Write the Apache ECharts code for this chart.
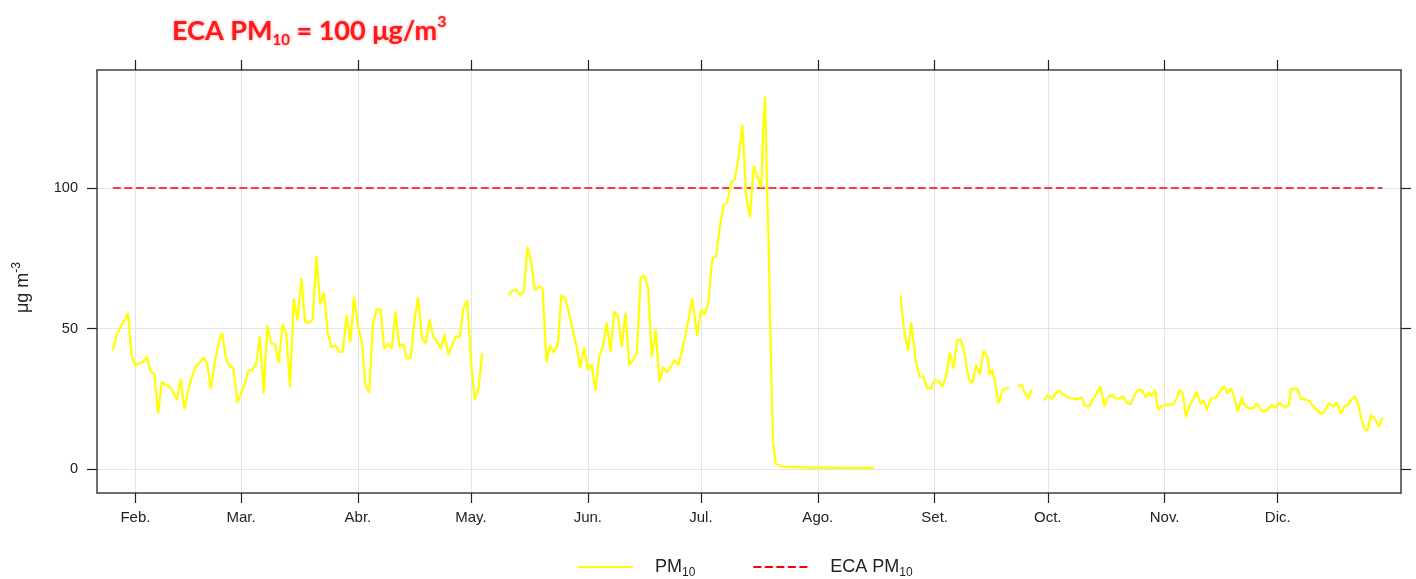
<!DOCTYPE html>
<html><head><meta charset="utf-8">
<script src="https://cdn.jsdelivr.net/npm/echarts@6/dist/echarts.min.js"></script>
<style>html,body{margin:0;padding:0;background:#fff}#c{width:1416px;height:579px}</style>
</head><body><div id="c"></div>
<script>
// Day of year (Jan 1 = 0)
const monthDays = [31, 59, 90, 120, 151, 181, 212, 243, 273, 304, 334];
const monthLabels = ['Feb.', 'Mar.', 'Abr.', 'May.', 'Jun.', 'Jul.', 'Ago.', 'Set.', 'Oct.', 'Nov.', 'Dic.'];
const yTicks = [0, 50, 100];

const pm10Days = [
  25,26,27,28,29,30,31,32,33,34,35,36,37,38,39,40,41,42,43,44,45,46,47,48,49,50,
  51,52,53,54,55,56,57,58,59,60,61,62,63,64,65,66,67,68,69,70,71,72,73,74,75,76,77,78,79,80,
  81,82,83,84,85,86,87,88,89,90,91,92,93,94,95,96,97,98,99,100,101,102,103,104,105,106,107,108,109,110,
  111,112,113,114,115,116,117,118,119,120,121,122,123,
  126,
  130,131,132,133,134,135,136,137,138,139,140,141,142,143,144,145,146,147,148,149,150,
  151,152,153,154,155,156,157,158,159,160,161,162,163,164,165,166,167,168,169,170,
  171,172,173,174,175,176,177,178,178.7,180,181,182,183,184,185,186,187,188,189,190,
  191,192,192.5,193,194,195,196,197,197.5,198,198.3,198.6,199,199.3,199.7,200.1,200.8,202.5,
  204,206,208,210,212,214,216,218,220,222,224,226,227,
  230,
  234,234.4,235,236,236.8,237.3,238,239,240,241,242,243,244,245,246,247,248,249,250,
  251,251.5,252,253,253.5,254,255,256,257,257.6,258.3,259,260,261,262,262.7,
  264,
  265,266,267,268,268.6,
  270,
  272,273,274,275,276,277,278,280,281,282,283,284,285,286,287,288,289,290,
  291,292,293,294,295,296,297,298,299,300,300.5,301.4,302.3,303.2,304.6,306.4,307.2,308,308.8,309.7,310.6,
  311.5,312.5,313.6,314.3,315.2,316.3,317.8,318.9,319.8,320.7,321.6,322.5,323.4,324.5,325.1,326.3,327.6,328.5,329.6,
  331.1,332.4,333.3,334.5,335.6,336.9,337.5,338.7,339.3,340,341.4,342.3,343.4,344.5,345.3,346.2,347.5,348.7,349.8,
  350.8,351.7,352.6,353.5,354.4,355.3,356.2,357.1,357.8,358.7,359.7,360.9,361.8
];
const pm10Values = [
  42.3,47.7,50.4,52.8,55.4,40.2,36.7,37.8,38,40,34.6,33.8,19.8,31,29.9,29.5,27.5,24.6,32,21.4,28.1,32.9,36.4,37.8,39.6,37.6,
  28.4,37.6,44.7,48.5,39.4,36.4,36,23.6,26.9,30.5,35,35.4,37,47.3,26.9,51.2,44.7,44.5,37.8,51.6,48,29.3,60.7,52.8,67.9,52.4,52,53.3,75.8,58.7,
  62.7,48.3,43.3,44.1,41.7,41.7,54.8,45,61.3,50.6,45.9,29.9,27.2,51.8,56.8,56.8,42.9,44.5,42.9,56,43.5,44.5,39.4,39.4,53,61.1,46.5,44.7,53.3,47.1,
  45.3,42.9,48,40.6,44.1,47.3,46.9,57.2,60.1,38.8,24.6,28.7,41.2,
  null,
  61.9,63.5,63.8,61.9,63.1,79.1,73.2,63.7,64.9,64.3,38.2,44.1,41.4,44.1,61.9,60.7,55.4,49.5,43.5,35.8,43.3,
  35.2,37.4,27.9,40,43.5,52.1,41.7,56,54.2,43.5,55.6,37,38.8,41.2,67.9,69,64.3,40,49.7,31.1,
  36.4,34.3,36.4,38.8,37,42.3,48.3,55.4,60.7,47.3,56.8,54.8,59.5,75,75.6,86.2,94,94.8,101.7,103.1,
  111.1,122.4,110,97,89.6,107.8,104,100.2,121,132.5,114,97,78,55,32,10.3,2,0.8,
  0.8,0.7,0.6,0.5,0.5,0.5,0.5,0.4,0.4,0.4,0.4,0.4,0.4,
  null,
  61.6,55.4,48.3,42.1,52.1,46.5,38.2,32.9,32.8,28.7,28.7,31.7,31.3,29.3,32.9,41.4,35.8,45.9,45.9,
  40.6,35.8,32.3,30.5,33.6,37,33.6,42.1,40,33.6,35.2,30.7,23.4,28.1,28.7,29,
  null,
  29.5,29.9,26.9,25.1,28.4,
  null,
  24.3,26.3,24.9,26.7,27.9,26.7,25.7,24.9,24.9,25.5,22.4,22.4,24.9,26.9,29.5,22.2,25.7,26.3,
  25.1,25.1,25.9,23.6,23.1,26.3,28.1,28.1,25.5,27.4,25.9,28.1,21,22.4,22.8,23.1,25.1,28.1,26.9,18.4,22.8,
  24.4,27.5,23.1,24.4,21,25.1,25.5,28.1,29.5,26.9,28.7,25.5,20.4,25.5,22.8,21.6,21.6,23.4,20.8,
  20.8,22.8,21.8,23.6,22.2,22.4,28.4,28.7,28.4,25.1,24.6,24.4,22.4,20.8,19.8,20,23.4,22.2,23.6,
  19.6,22.4,22.8,24.6,25.9,23.4,17.7,14.1,13.6,19.2,18,15.1,18.4
];
const ecaDays = [25, 361.8];
const ecaValues = [100, 100];

const pm10Data = pm10Days.map((d, i) => [d, pm10Values[i]]);
const ecaData = ecaDays.map((d, i) => [d, ecaValues[i]]);

const FONT = 'Liberation Sans, Arial, sans-serif';
const TFONT = 'Lato, Open Sans, sans-serif';
const axisLineStyle = { color: '#404040', width: 1.5 };
const tickStyle = { color: '#222', width: 1.2 };
const gridLine = { show: true, lineStyle: { color: '#e4e4e4', width: 1 } };
const glow = { textShadowColor: 'rgba(255,0,0,0.45)', textShadowBlur: 3 };

const chart = echarts.init(document.getElementById('c'), null, { renderer: 'canvas' });
chart.setOption({
  animation: false,
  backgroundColor: '#fff',
  title: {
    left: 167, top: 9,
    text: '{a|ECA PM}{s|10}{a| = 100 μg/m}{p|3}',
    textStyle: {
      rich: {
        a: Object.assign({ fontFamily: TFONT, fontWeight: 'bold', fontSize: 27, color: '#ff1a1a', lineHeight: 34 }, glow),
        s: Object.assign({ fontFamily: TFONT, fontWeight: 'bold', fontSize: 15, color: '#ff1a1a', lineHeight: 26, verticalAlign: 'bottom' }, glow),
        p: Object.assign({ fontFamily: TFONT, fontWeight: 'bold', fontSize: 16, color: '#ff1a1a', lineHeight: 24, verticalAlign: 'top' }, glow)
      }
    }
  },
  grid: { left: 97, right: 15, top: 70, bottom: 86, containLabel: false },
  legend: {
    left: 572, top: 553,
    itemWidth: 55, itemHeight: 14, itemGap: 57,
    itemStyle: { opacity: 0 },
    data: ['PM10', 'ECA PM10'],
    formatter: n => n === 'PM10' ? '{a|PM}{s|10}' : '{a|ECA PM}{s|10}',
    textStyle: {
      rich: {
        a: { fontFamily: FONT, fontSize: 18, color: '#222', lineHeight: 24 },
        s: { fontFamily: FONT, fontSize: 12, color: '#222', lineHeight: 12, verticalAlign: 'bottom' }
      },
      padding: [0, 0, 0, 17]
    }
  },
  xAxis: [{
    type: 'value', min: 20.8, max: 366.7, position: 'bottom',
    axisLine: { show: true, onZero: false, lineStyle: axisLineStyle },
    axisTick: { show: true, customValues: monthDays, length: 10, inside: false, lineStyle: tickStyle },
    axisLabel: { show: true, customValues: monthDays, margin: 17, fontFamily: FONT, fontSize: 15, color: '#222',
      formatter: v => monthLabels[monthDays.indexOf(v)] },
    splitLine: gridLine
  }, {
    type: 'value', min: 20.8, max: 366.7, position: 'top',
    axisLine: { show: true, onZero: false, lineStyle: axisLineStyle },
    axisTick: { show: true, customValues: monthDays, length: 10, inside: false, lineStyle: tickStyle },
    axisLabel: { show: false },
    splitLine: { show: false }
  }],
  yAxis: [{
    type: 'value', min: -8.54, max: 142, position: 'left',
    name: '{a|μg m}{p|-3}', nameLocation: 'middle', nameGap: 62, nameRotate: 90,
    nameTextStyle: {
      padding: [0, 12, 0, 0],
      rich: {
        a: { fontFamily: FONT, fontSize: 18, color: '#222', lineHeight: 24 },
        p: { fontFamily: FONT, fontSize: 12, color: '#222', lineHeight: 14, verticalAlign: 'top' }
      }
    },
    axisLine: { show: true, onZero: false, lineStyle: axisLineStyle },
    axisTick: { show: true, customValues: yTicks, length: 10, inside: false, lineStyle: tickStyle },
    axisLabel: { show: true, customValues: yTicks, margin: 19, fontFamily: FONT, fontSize: 14.5, color: '#222' },
    splitLine: gridLine
  }, {
    type: 'value', min: -8.54, max: 142, position: 'right',
    axisLine: { show: true, onZero: false, lineStyle: axisLineStyle },
    axisTick: { show: true, customValues: yTicks, length: 10, inside: false, lineStyle: tickStyle },
    axisLabel: { show: false },
    splitLine: { show: false }
  }],
  series: [{
    name: 'PM10', type: 'line', xAxisIndex: 0, yAxisIndex: 0,
    data: pm10Data, showSymbol: false, symbol: 'none', connectNulls: false,
    lineStyle: { color: '#ffff00', width: 2.2 }, itemStyle: { color: '#ffff00' }, z: 3
  }, {
    name: 'ECA PM10', type: 'line', xAxisIndex: 0, yAxisIndex: 0,
    data: ecaData, showSymbol: false, symbol: 'none',
    lineStyle: { color: '#ff0000', width: 1.3, type: [8, 3.5] }, itemStyle: { color: '#ff0000' }, z: 2
  }]
});
</script></body></html>
